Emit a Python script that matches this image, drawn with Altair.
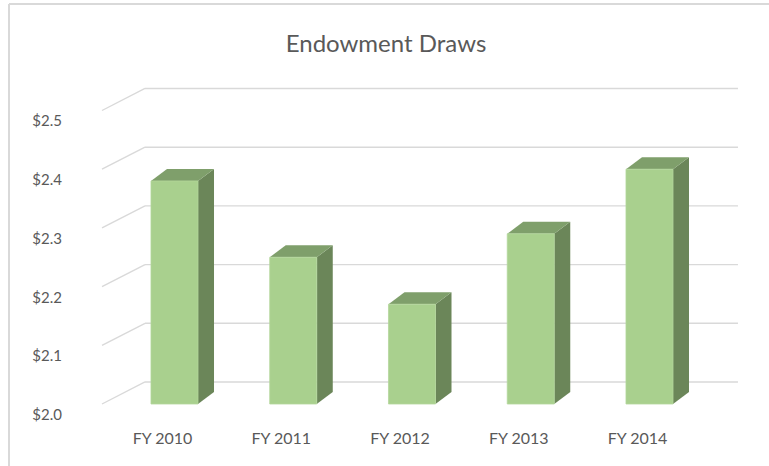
import altair as alt
import pandas as pd

# ---- data ----
title_text = "Endowment Draws"
categories = ["FY 2010", "FY 2011", "FY 2012", "FY 2013", "FY 2014"]
draws = [2.38, 2.25, 2.17, 2.29, 2.40]
tick_values = [2.0, 2.1, 2.2, 2.3, 2.4, 2.5]
tick_labels = ["$2.0", "$2.1", "$2.2", "$2.3", "$2.4", "$2.5"]

# ---- style / geometry constants (pseudo-3D look) ----
BASE = 2.0
HALF_W = 0.198      # half bar width, in category units
BAR_DX = 0.1347     # bar depth, x (category units)
BAR_DY = 0.0204     # bar depth, y (value units)
WALL_FRONT = -0.6105
WALL_BACK = -0.2484
WALL_RIGHT = 4.745
WALL_DY = 0.0375

FRONT = "#a9d08e"
TOP = "#7f9f6b"
SIDE = "#6b8659"
GRID = "#d9d9d9"
TEXT = "#595959"
FONT = "Lato"

xs = alt.Scale(domain=[-1.4695, 5.0063], nice=False, zero=False)
ys = alt.Scale(domain=[1.89438, 2.58603], nice=False, zero=False)

bars = pd.DataFrame({"i": range(len(categories)), "cat": categories, "v": draws})
bars["left"] = bars["i"] - HALF_W
bars["right"] = bars["i"] + HALF_W
bars["base"] = BASE

side_rows, top_rows = [], []
for i, v in zip(bars["i"], bars["v"]):
    r = i + HALF_W
    l = i - HALF_W
    side_rows += [
        {"bid": f"b{i}", "px": r, "lo": BASE, "hi": v},
        {"bid": f"b{i}", "px": r + BAR_DX, "lo": BASE + BAR_DY, "hi": v + BAR_DY},
    ]
    top_rows += [
        {"bid": f"b{i}", "px": l, "lo": v, "hi": v},
        {"bid": f"b{i}", "px": l + BAR_DX, "lo": v, "hi": v + BAR_DY},
        {"bid": f"b{i}", "px": r, "lo": v, "hi": v + BAR_DY},
        {"bid": f"b{i}", "px": r + BAR_DX, "lo": v + BAR_DY, "hi": v + BAR_DY},
    ]
side = pd.DataFrame(side_rows)
top = pd.DataFrame(top_rows)

grid = pd.DataFrame({"t": tick_values, "lab": tick_labels})
grid["tb"] = grid["t"] + WALL_DY
grid["xf"] = WALL_FRONT
grid["xb"] = WALL_BACK
grid["xr"] = WALL_RIGHT


def X(f):
    return alt.X(f, type="quantitative", scale=xs, axis=None)


def Y(f):
    return alt.Y(f, type="quantitative", scale=ys, axis=None, stack=None)


back_lines = alt.Chart(grid).mark_rule(color=GRID, strokeWidth=1.4).encode(
    x=X("xb"), x2="xr", y=Y("tb")
)
diag_lines = alt.Chart(grid).mark_rule(color=GRID, strokeWidth=1.4).encode(
    x=X("xf"), x2="xb", y=Y("t"), y2="tb"
)
ylabels = alt.Chart(grid).mark_text(
    align="right", baseline="middle", dy=11, font=FONT, fontSize=15, color=TEXT
).encode(x=alt.value(62), y=Y("t"), text="lab:N")

side_faces = alt.Chart(side).mark_area(
    color=SIDE, interpolate="linear", orient="vertical"
).encode(x=X("px"), y=Y("lo"), y2="hi", detail="bid:N")
top_faces = alt.Chart(top).mark_area(
    color=TOP, interpolate="linear", orient="vertical"
).encode(x=X("px"), y=Y("lo"), y2="hi", detail="bid:N")
front_faces = alt.Chart(bars).mark_bar(color=FRONT, stroke="#b4d79c", strokeWidth=0.8).encode(
    x=X("left"), x2="right", y=Y("base"), y2="v"
)
xlabels = alt.Chart(bars).mark_text(
    align="center", baseline="middle", dx=-12, font=FONT, fontSize=16, color=TEXT
).encode(x=X("i"), y=alt.value(379), text="cat:N")

title = alt.Chart(pd.DataFrame({"t": [title_text]})).mark_text(
    align="center", baseline="middle", font=FONT, fontSize=24, color=TEXT
).encode(x=alt.value(386), y=alt.value(-15), text="t:N")

border_left = alt.Chart(grid).mark_rule(color=GRID, strokeWidth=1.5).encode(
    x=alt.value(9), y=alt.value(-56), y2=alt.value(420)
)
border_top = alt.Chart(grid).mark_rule(color=GRID, strokeWidth=1.5).encode(
    x=alt.value(9), x2=alt.value(790), y=alt.value(-56)
)

chart = alt.layer(
    border_left, border_top, back_lines, diag_lines, ylabels,
    side_faces, top_faces, front_faces, xlabels, title
).properties(
    width=769,
    height=406,
    padding={"left": 0, "top": 60, "right": 0, "bottom": 0},
    autosize=alt.AutoSizeParams(type="none"),
).configure_view(stroke=None)

chart.save("out.html", embed_options={"renderer": "svg", "actions": False})
